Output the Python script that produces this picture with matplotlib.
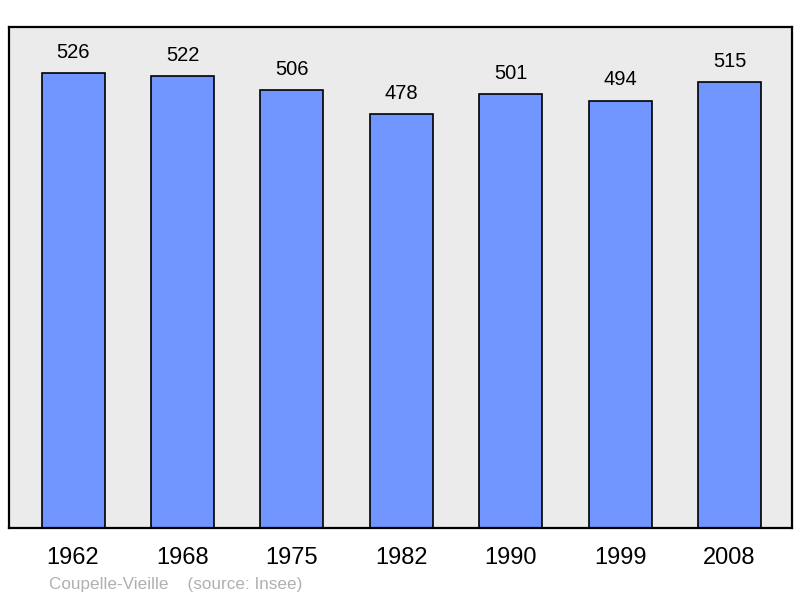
import matplotlib.pyplot as plt
import numpy as np

years = ["1962", "1968", "1975", "1982", "1990", "1999", "2008"]
population = [526, 522, 506, 478, 501, 494, 515]

plt.rcParams['font.family'] = ['Liberation Sans', 'DejaVu Sans']

fig = plt.figure(figsize=(8, 5.98), dpi=100)
ax = fig.add_axes([9 / 800, 70 / 598, 783 / 800, 501 / 598])
ax.set_facecolor('#ebebeb')

x = np.arange(len(years))
bars = ax.bar(x, population, width=0.576, color='#7195ff', edgecolor='black', linewidth=1.2, zorder=2)

for xi, v in zip(x, population):
    ax.annotate(str(v), (xi, v), xytext=(0, 15), textcoords='offset points',
                ha='center', va='center', fontsize=14.5)

ax.set_xlim(-0.585, 6.57)
ax.set_ylim(0, 579)
ax.set_xticks(x)
ax.set_xticklabels(years, fontsize=17)
ax.tick_params(axis='x', length=0, pad=14)
ax.set_yticks([])
for s in ax.spines.values():
    s.set_linewidth(1.6)

fig.text(49 / 800, 1 - 584 / 598, "Coupelle-Vieille    (source: Insee)",
         fontsize=12.3, color='#b0b0b0', va='center', ha='left')

fig.savefig('out.png', dpi=100)
